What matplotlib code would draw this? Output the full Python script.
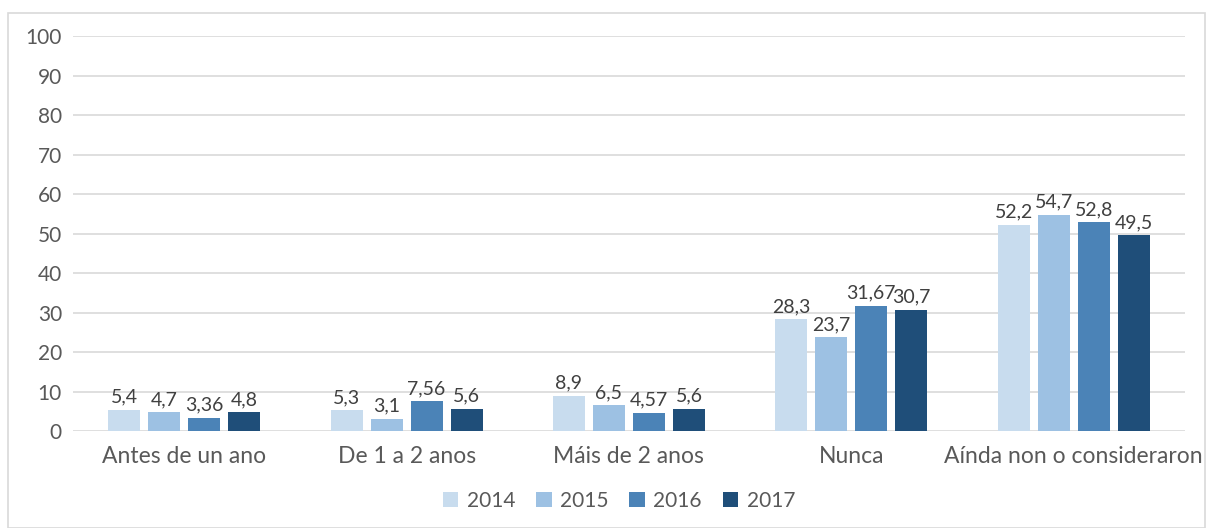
import matplotlib.pyplot as plt
from matplotlib.patches import Rectangle
import numpy as np

plt.rcParams['font.family'] = ['Lato', 'DejaVu Sans']

categorias = ["Antes de un ano", "De 1 a 2 anos", "Máis de 2 anos", "Nunca",
              "Aínda non o consideraron"]
anos = ["2014", "2015", "2016", "2017"]
v2014 = [5.4, 5.3, 8.9, 28.3, 52.2]
v2015 = [4.7, 3.1, 6.5, 23.7, 54.7]
v2016 = [3.36, 7.56, 4.57, 31.67, 52.8]
v2017 = [4.8, 5.6, 5.6, 30.7, 49.5]
series = [v2014, v2015, v2016, v2017]
cores = ["#c8dcee", "#9dc1e3", "#4b83b7", "#1f4e79"]

fig = plt.figure(figsize=(12.09, 5.28), dpi=100)
ax = fig.add_axes([0.0604, 0.1837, 0.9196, 0.7481])

x = np.arange(len(categorias))
ancho = 0.144
paso = 0.18
for i, (vals, cor, ano) in enumerate(zip(series, cores, anos)):
    pos = x + (i - 1.5) * paso
    barras = ax.bar(pos, vals, width=ancho, color=cor, label=ano, zorder=3)
    etiquetas = [f"{v:g}".replace(".", ",") for v in vals]
    ax.bar_label(barras, labels=etiquetas, padding=3, fontsize=14,
                 color="#404040")

ax.set_xlim(-0.5, len(categorias) - 0.5)
ax.set_ylim(0, 100)
ax.set_yticks(range(0, 101, 10))
ax.yaxis.grid(True, color="#d9d9d9", linewidth=1.2, zorder=0)
for s in ["top", "right", "left", "bottom"]:
    ax.spines[s].set_visible(False)
ax.tick_params(axis="y", length=0, labelsize=15, colors="#595959", pad=8)
ax.set_xticks(x)
ax.set_xticklabels(categorias)
ax.tick_params(axis="x", length=0, labelsize=16.5, colors="#595959", pad=11)

fig.legend(loc="center", bbox_to_anchor=(0.512, 0.052), ncol=4, frameon=False,
           fontsize=15, labelcolor="#595959", handlelength=0.75, handleheight=0.75,
           columnspacing=1.0, handletextpad=0.4)

fig.patches.append(Rectangle((0.0066, 0.0), 0.99, 0.975, transform=fig.transFigure,
                             fill=False, edgecolor="#d9d9d9", linewidth=1.2))

fig.savefig("out.png", dpi=100)
